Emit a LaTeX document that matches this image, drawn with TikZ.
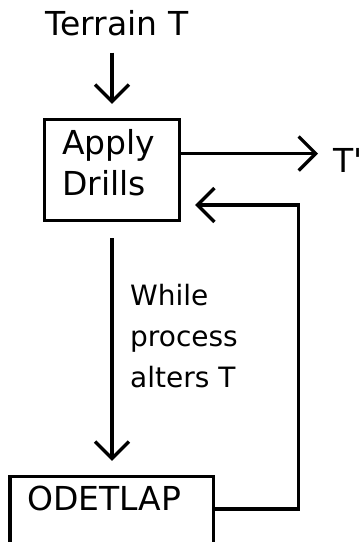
\documentclass[tikz,border=0pt]{standalone}
\usepackage{fontspec}
\newfontfamily\diagfont{DejaVu Sans}
\usetikzlibrary{
    arrows.meta,
    calc,
    positioning
}

\begin{document}
\begin{tikzpicture}[x=1pt, y=-1pt,
    every node/.style={font=\diagfont\fontsize{33}{41}\selectfont, inner sep=0pt},
    block/.style={draw, line width=3.3pt},
    flow/.style={-{Straight Barb[length=17pt, width=34pt]}, line width=3.3pt}]
    \useasboundingbox (0, 0) rectangle (361, 542);
    \node[anchor=base] (terrain) at (117, 35) {Terrain T};
    \node[block, minimum width=135pt, minimum height=101pt] (apply) at (112, 170) {};
    \node[anchor=north west, align=left] (applylbl) at (62, 129) {Apply\\Drills};
    \node[anchor=base west] (tout) at (333, 172) {T'};
    \node[anchor=north west, align=left, font=\diagfont\fontsize{28}{41}\selectfont] (cond) at (130, 284) {While\\process\\alters T};
    \node[block, minimum width=203.5pt, minimum height=101pt] (odetlap) at (111.7, 527) {};
    \node[anchor=base west] (odetlaplbl) at (27, 510) {ODETLAP};
    \coordinate (back) at (298.7, 205);
    \draw[flow, shorten <=17pt, shorten >=14pt] (terrain.south -| apply.north) -- (apply.north);
    \draw[flow, shorten >=15pt] ([yshift=16.5pt]apply.east) coordinate (drillout) -- (drillout -| tout.west);
    \draw[flow, shorten <=16pt, shorten >=14pt] (apply.south) -- (odetlap.north -| apply.south);
    \draw[flow, shorten >=14pt] ([yshift=18pt]odetlap.east) -| (back) -- (back -| apply.east);
\end{tikzpicture}
\end{document}
